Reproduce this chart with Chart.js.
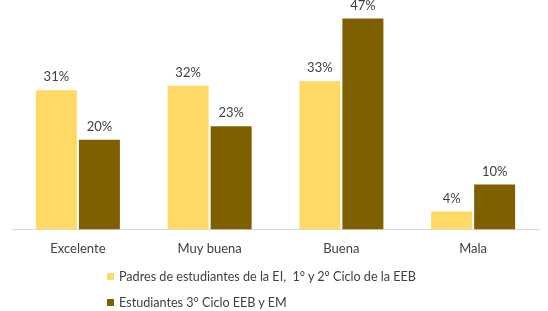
<!DOCTYPE html>
<html>
<head>
<meta charset="utf-8">
<script src="https://cdn.jsdelivr.net/npm/chart.js@4.4.1/dist/chart.umd.min.js"></script>
<style>
  html, body { margin: 0; padding: 0; background: #fff; }
  #wrap { position: relative; width: 548px; height: 311px; }
  #legend { position: absolute; left: 107px; top: 268px; font-family: Lato, sans-serif; font-size: 12.6px; color: #404040; }
  #legend div { height: 26px; line-height: 18px; white-space: pre; }
  #legend span { display: inline-block; width: 7px; height: 7px; margin-right: 5px; vertical-align: 1px; }
</style>
</head>
<body>
<div id="wrap">
  <canvas id="chart" width="548" height="311"></canvas>
  <div id="legend"></div>
</div>
<script>
const categories = ["Excelente", "Muy buena", "Buena", "Mala"];
const seriesNames = ["Padres de estudiantes de la EI,  1° y 2° Ciclo de la EEB", "Estudiantes 3° Ciclo EEB y EM"];
const padres = [31, 32, 33, 4];
const estudiantes = [20, 23, 47, 10];
const colors = ["#FFD966", "#7F6000"];

// value labels above each bar
const barLabels = {
  id: "barLabels",
  afterDatasetsDraw(chart) {
    const ctx = chart.ctx;
    ctx.save();
    ctx.font = "13px Lato, sans-serif";
    ctx.fillStyle = "#404040";
    ctx.textAlign = "center";
    ctx.textBaseline = "middle";
    chart.data.datasets.forEach((ds, i) => {
      chart.getDatasetMeta(i).data.forEach((bar, j) => {
        ctx.fillText(ds.data[j] + "%", bar.x, bar.y - 13);
      });
    });
    ctx.restore();
  }
};

new Chart(document.getElementById("chart"), {
  type: "bar",
  data: {
    labels: categories,
    datasets: [
      { label: seriesNames[0], data: padres, backgroundColor: colors[0] },
      { label: seriesNames[1], data: estudiantes, backgroundColor: colors[1] }
    ]
  },
  options: {
    responsive: false,
    animation: false,
    categoryPercentage: 0.653,
    barPercentage: 0.953,
    layout: { padding: { left: 12, right: 9, top: 5, bottom: 50 } },
    plugins: { legend: { display: false }, tooltip: { enabled: false } },
    scales: {
      x: {
        grid: { display: false },
        border: { display: true, color: "#D9D9D9", width: 1 },
        ticks: { color: "#404040", font: { family: "Lato, sans-serif", size: 13 }, padding: 4 }
      },
      y: { display: false, min: 0, max: 50 }
    }
  },
  plugins: [barLabels]
});

const legend = document.getElementById("legend");
seriesNames.forEach((name, i) => {
  const row = document.createElement("div");
  row.innerHTML = '<span style="background:' + colors[i] + '"></span>' + name;
  legend.appendChild(row);
});
</script>
</body>
</html>
